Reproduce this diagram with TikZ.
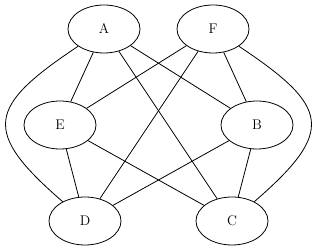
\documentclass[tikz,border=0pt]{standalone}
\usetikzlibrary{shapes.geometric}
\begin{document}
\begin{tikzpicture}[x=1pt,y=1pt,
  vtx/.style={draw,ellipse,minimum width=72pt,minimum height=48pt,inner sep=0pt,line width=0.8pt,font=\fontsize{14}{16}\selectfont},
  edge/.style={line width=0.8pt}]
\useasboundingbox (0,0) rectangle (318,251);
\node[vtx] (A) at (104,222) {A};
\node[vtx] (F) at (213,222) {F};
\node[vtx] (E) at (60,126) {E};
\node[vtx] (B) at (257,126) {B};
\node[vtx] (D) at (85,30) {D};
\node[vtx] (C) at (232,30) {C};
\draw[edge] (A) -- (E);
\draw[edge] (A) -- (B);
\draw[edge] (A) -- (C);
\draw[edge] (F) -- (E);
\draw[edge] (F) -- (D);
\draw[edge] (F) -- (B);
\draw[edge] (E) -- (D);
\draw[edge] (E) -- (C);
\draw[edge] (B) -- (D);
\draw[edge] (B) -- (C);
\draw[edge] (A) .. controls (-12.8,144.2) and (-18.8,119.9) .. (D);
\draw[edge] (F) .. controls (329.8,144.2) and (335.8,119.9) .. (C);
\end{tikzpicture}
\end{document}
